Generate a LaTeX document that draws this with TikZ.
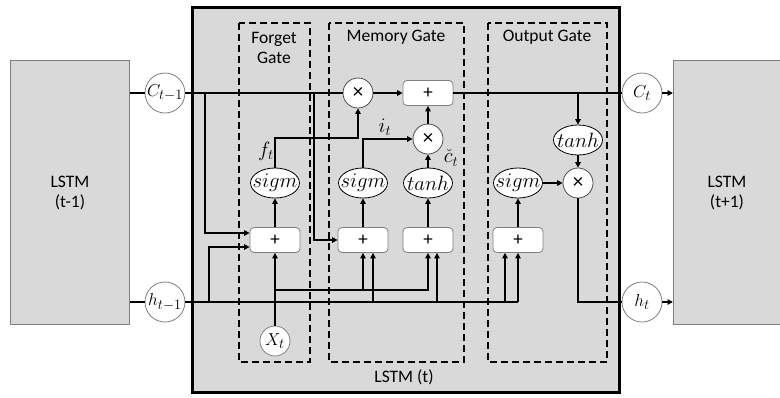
\documentclass[tikz,border=0pt]{standalone}
\usepackage{fontspec}
\setmainfont{Carlito}
\usetikzlibrary{arrows.meta,shapes.geometric,calc}
\definecolor{boxgray}{HTML}{D9D9D9}
\definecolor{edgegray}{HTML}{808080}
\newcommand{\actlabel}[1]{\makebox[0pt]{$#1$}}
\begin{document}
\begin{tikzpicture}[x=1pt,y=-1pt,
  line/.style={line width=1.8pt},
  arr/.style={line width=1.8pt,-{Triangle[length=5.5pt,width=5.5pt]}},
  txt/.style={font=\fontsize{17.5}{20}\selectfont},
  state/.style={circle,draw=edgegray,fill=white,line width=0.8pt,minimum size=40pt,inner sep=0pt,font=\fontsize{19}{21}\selectfont},
  mulnode/.style={circle,draw=edgegray!60!black,fill=white,line width=0.8pt,minimum size=30pt,inner sep=0pt,font=\fontsize{21}{23}\selectfont},
  addbox/.style={rectangle,rounded corners=4pt,draw=edgegray,fill=white,line width=0.8pt,minimum width=50pt,minimum height=25pt,inner sep=0pt,font=\fontsize{19}{21}\selectfont},
  act/.style={ellipse,draw=black,fill=white,line width=0.8pt,minimum width=49pt,minimum height=30pt,inner sep=0pt,font=\fontsize{21.5}{23}\selectfont},
  gatebox/.style={draw=black,line width=1.8pt,dash pattern=on 7pt off 4pt},
  lab/.style={font=\fontsize{20}{22}\selectfont,inner sep=0pt}]
\useasboundingbox (0,0) rectangle (780,397);
% outer neighbouring cells
\node[draw=edgegray,fill=boxgray,line width=0.8pt,minimum width=119pt,minimum height=264pt,inner sep=0pt,anchor=north west] (lbox) at (10,60) {};
\node[draw=edgegray,fill=boxgray,line width=0.8pt,minimum width=112pt,minimum height=264pt,inner sep=0pt,anchor=north west] (rbox) at (673,60) {};
\node[txt,align=center] (lboxt) at (70,193) {LSTM\\(t-1)};
\node[txt,align=center] (rboxt) at (727,193) {LSTM\\(t+1)};
% main cell
\node[draw=black,fill=boxgray,line width=3pt,minimum width=427pt,minimum height=385pt,inner sep=0pt,anchor=north west] (main) at (191,6) {};
\node[txt] (maint) at (404,377) {LSTM (t)};
% gates
\draw[gatebox] (239,23) rectangle (310,362);
\draw[gatebox] (329,23) rectangle (464,362);
\draw[gatebox] (488,23) rectangle (607,362);
\node[txt,align=center] (fgt) at (274,48) {Forget\\Gate};
\node[txt] (mgt) at (396,37) {Memory Gate};
\node[txt] (ogt) at (547,37) {Output Gate};
% nodes
\node[state] (cp) at (165,93) {$C_{t-1}$};
\node[state] (hp) at (165,302) {$h_{t-1}$};
\node[state] (ct) at (642,93) {$C_t$};
\node[state] (ht) at (642,302) {$h_t$};
\node[state,minimum size=30pt] (xt) at (275,341) {$X_t$};
\node[mulnode] (m1) at (358,93) {×};
\node[mulnode] (m2) at (428,139) {×};
\node[mulnode] (m3) at (578,183) {×};
\node[addbox] (a0) at (428,93) {+};
\node[addbox] (af) at (275,240) {+};
\node[addbox] (ai) at (363,240) {+};
\node[addbox] (ac) at (428,240) {+};
\node[addbox] (ao) at (518,240) {+};
\node[act] (sf) at (275,183) {\actlabel{sigm}};
\node[act] (si) at (363,183) {\actlabel{sigm}};
\node[act] (tc) at (428,183) {\actlabel{tanh}};
\node[act] (so) at (518,183) {\actlabel{sigm}};
\node[act] (to) at (578,140) {\actlabel{tanh}};
% cell state line
\draw[line] (cp.west) -- (cp.west -| lbox.east);
\draw[line] (cp) -- (m1);
\draw[arr] (m1) -- (a0);
\draw[line] (a0) -- (ct);
\draw[arr] (ct) -- (ct -| rbox.west);
% hidden state line
\draw[line] (hp.west) -- (hp.west -| lbox.east);
\coordinate (ho1) at ($(ao.south)+(-13,0)$);
\draw[line] (hp) -- (hp -| ao.south);
% forget gate inputs
\coordinate (cb1) at (205,93);
\coordinate (hb1) at (209,302);
\draw[arr] (cb1) |- ($(af.west)+(0,-7)$);
\draw[arr] (hb1) |- ($(af.west)+(0,7)$);
\draw[arr] (xt) -- (af);
% memory gate inputs
\coordinate (cb2) at (314,93);
\draw[arr] (cb2) |- (ai.west);
\coordinate (xj) at (275,290);
\draw[arr] (xj) -| (ai.south);
\draw[arr] (xj) -| (ac.south);
\coordinate (ai2) at ($(ai.south)+(10,0)$);
\coordinate (ac2) at ($(ac.south)+(9,0)$);
\draw[arr] (ai2 |- hp) -- (ai2);
\draw[arr] (ac2 |- hp) -- (ac2);
% output gate inputs
\draw[arr] (ho1 |- hp) -- (ho1);
\draw[arr] (hp -| ao.south) -- (ao.south);
% activations
\draw[arr] (af) -- (sf);
\draw[arr] (ai) -- (si);
\draw[arr] (ac) -- (tc);
\draw[arr] (ao) -- (so);
% forget path
\coordinate (fj) at (275,138);
\draw[arr] (sf.north) -- (fj) -| (m1.south);
\node[lab] (flab) at (266,151) {$f_t$};
% input path
\draw[arr] (si.north) |- (m2.west);
\node[lab] (ilab) at (385,127) {$i_t$};
\draw[arr] (tc) -- (m2);
\node[lab] (clab) at (451,158) {$\check{c}_t$};
\draw[arr] (m2) -- (a0);
% output path
\draw[arr] (ct -| m3) -- (to);
\draw[arr] (to) -- (m3);
\draw[arr] (so) -- (m3);
\draw[line] (m3) |- (ht);
\draw[arr] (ht) -- (ht -| rbox.west);
\end{tikzpicture}
\end{document}
